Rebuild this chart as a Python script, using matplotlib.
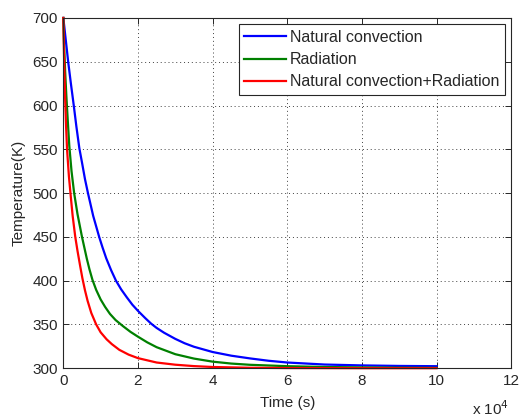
import matplotlib
matplotlib.use('Agg')
import matplotlib.pyplot as plt

plt.rcParams['font.family'] = ['Liberation Sans', 'DejaVu Sans']

# time in units of 1e4 s, temperature in K
t_conv = [0, 0.06, 0.13, 0.2, 0.28, 0.35, 0.43, 0.5, 0.58, 0.66, 0.8, 0.96, 1.05,
          1.15, 1.28, 1.41, 1.55, 1.7, 1.85, 2.0, 2.2, 2.35, 2.5, 2.7, 3.0, 3.25,
          3.5, 4.0, 4.5, 5.0, 5.5, 6.0, 7.0, 8.0, 9.0, 10.0]
T_conv = [700, 677, 650, 626, 600, 576, 551, 535, 516, 500, 474, 450, 438,
          425.5, 412, 400, 390, 381, 372.5, 365.5, 357, 351, 346, 340.5, 333.5, 328.5,
          324.5, 318.5, 314.3, 311.2, 308.5, 306.5, 304.2, 303.2, 302.6, 302.3]

t_rad = [0, 0.02, 0.05, 0.08, 0.10, 0.13, 0.16, 0.22, 0.29, 0.38, 0.50, 0.63, 0.70,
         0.78, 0.88, 1.0, 1.12, 1.25, 1.4, 1.6, 1.8, 2.0, 2.25, 2.5, 3.0, 3.5,
         4.0, 4.5, 5.0, 6.0, 7.0, 8.0, 9.0, 10.0]
T_rad = [700, 670, 638, 612, 597, 575, 554, 525, 500, 476, 450, 425, 413,
         401, 389.5, 378.5, 370, 362, 355, 348, 341.5, 336, 329.5, 324, 316, 311,
         307.5, 305.3, 303.9, 302.3, 301.4, 300.9, 300.6, 300.4]

t_both = [0, 0.015, 0.03, 0.05, 0.075, 0.10, 0.15, 0.2, 0.25, 0.32, 0.38, 0.45, 0.51,
          0.58, 0.65, 0.75, 0.88, 1.0, 1.16, 1.3, 1.5, 1.75, 2.0, 2.5, 3.0, 3.5,
          4.0, 5.0, 6.0, 7.0, 8.0, 9.0, 10.0]
T_both = [700, 665, 638, 606, 575, 550, 519, 496, 474, 450, 434, 417, 403,
          389, 377, 363, 350, 341, 333, 327.5, 321, 315.5, 311.5, 306.5, 304, 302.4,
          301.4, 300.5, 300.2, 300.1, 300, 300, 300]

labels = ['Natural convection', 'Radiation', 'Natural convection+Radiation']
colors = ['#0000ff', '#008000', '#ff0000']

fig = plt.figure(figsize=(5.19, 4.17), dpi=100)
ax = fig.add_axes([0.122, 0.117, 0.863, 0.84])

ax.plot(t_conv, T_conv, color=colors[0], lw=1.6, label=labels[0], clip_on=False)
ax.plot(t_rad, T_rad, color=colors[1], lw=1.6, label=labels[1], clip_on=False)
ax.plot(t_both, T_both, color=colors[2], lw=1.6, label=labels[2], clip_on=False)

ax.set_xlim(0, 12)
ax.set_ylim(300, 700)
ax.set_xticks(range(0, 13, 2))
ax.set_yticks(range(300, 701, 50))

txt = '#262626'
ax.grid(True, color='#404040', linestyle=(0, (1, 3)), linewidth=0.7)
ax.tick_params(direction='in', length=4, width=0.7, top=True, right=True,
               labelsize=11, labelcolor=txt, colors='#262626', pad=4)
for s in ax.spines.values():
    s.set_color('#262626')
    s.set_linewidth(0.8)

ax.set_xlabel('Time (s)', fontsize=11, color=txt, labelpad=6)
ax.set_ylabel('Temperature(K)', fontsize=11, color=txt, labelpad=5)
fig.text(0.91, 0.004, r'x 10$^4$', fontsize=11, color=txt)

leg = ax.legend(loc='upper right', fontsize=11.5, fancybox=False, framealpha=1,
                edgecolor='#262626', borderaxespad=0.4, handlelength=2.6,
                handletextpad=0.25, labelspacing=0.45, borderpad=0.35)
leg.get_frame().set_linewidth(0.8)
for t in leg.get_texts():
    t.set_color(txt)

fig.savefig('out.png', dpi=100, facecolor='white')
